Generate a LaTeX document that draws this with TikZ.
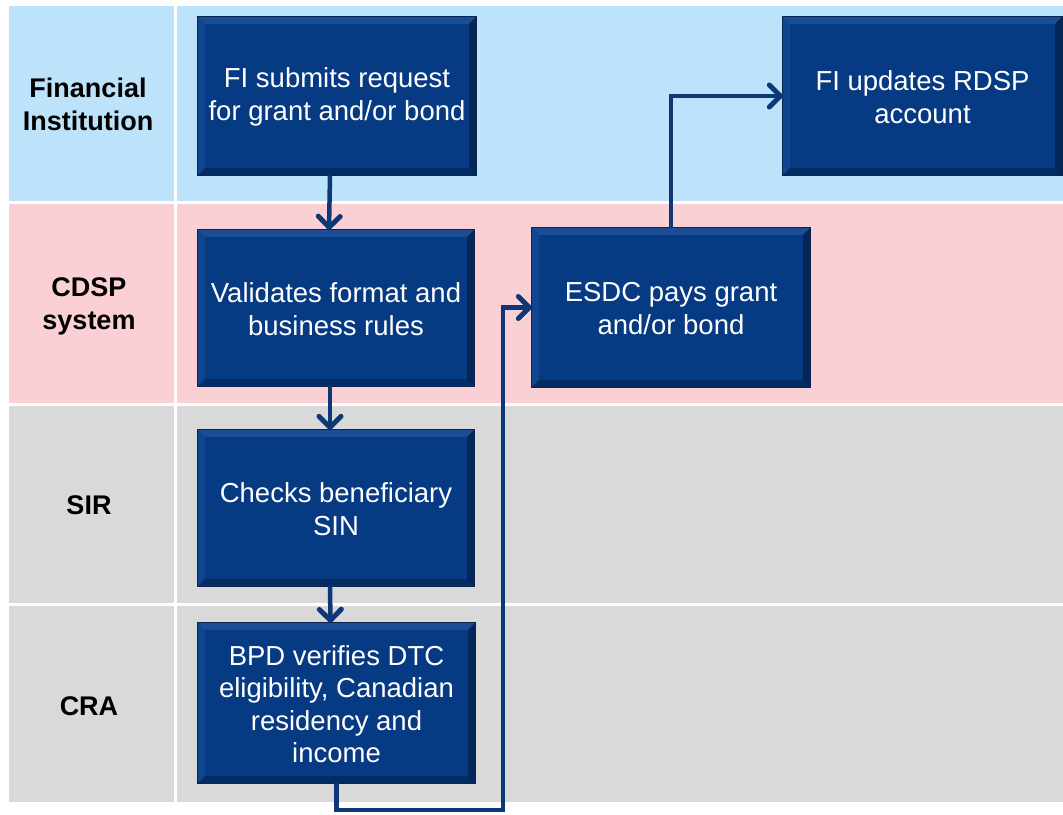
\documentclass[tikz,border=0pt]{standalone}
\usepackage{fontspec}
\setmainfont{Liberation Sans}
\usetikzlibrary{arrows.meta}
\definecolor{bandblue}{HTML}{BDE3FA}
\definecolor{bandpink}{HTML}{FBD0D4}
\definecolor{bandgrey}{HTML}{D9D9D9}
\definecolor{boxfill}{HTML}{063A82}
\definecolor{bevlight}{HTML}{1A4D96}
\definecolor{bevleft}{HTML}{104590}
\definecolor{bevdark}{HTML}{042B62}
\definecolor{bevright}{HTML}{032557}
\definecolor{boxedge}{HTML}{0A2550}
\definecolor{linecol}{HTML}{0D3878}
\tikzset{
  x=1pt, y=-1pt,
  band/.style={fill=#1, draw=none},
  lane/.style={font=\bfseries\fontsize{27}{33}\selectfont, align=center, text=black},
  proc/.style={fill=boxfill, draw=none, text=white, inner sep=0pt,
    font=\fontsize{27.5}{32.5}\selectfont, align=center},
  flow/.style={draw=linecol, line width=4.5pt, line join=miter,
    -{Straight Barb[length=11pt,width=22pt,line width=5pt,round]}},
}
\newcommand\bevelbox[1]{%
  \fill[bevlight] (#1.north west) -- (#1.north east) -- ([shift={(-7pt,-7pt)}]#1.north east) -- ([shift={(7pt,-7pt)}]#1.north west) -- cycle;
  \fill[bevleft] (#1.north west) -- ([shift={(7pt,-7pt)}]#1.north west) -- ([shift={(7pt,7pt)}]#1.south west) -- (#1.south west) -- cycle;
  \fill[bevdark] (#1.south west) -- ([shift={(7pt,7pt)}]#1.south west) -- ([shift={(-7pt,7pt)}]#1.south east) -- (#1.south east) -- cycle;
  \fill[bevright] (#1.south east) -- ([shift={(-7pt,7pt)}]#1.south east) -- ([shift={(-7pt,-7pt)}]#1.north east) -- (#1.north east) -- cycle;
  \draw[boxedge, line width=1pt] (#1.north west) rectangle (#1.south east);
}
\begin{document}
\begin{tikzpicture}
\useasboundingbox (0,0) rectangle (1063,814);
\fill[white] (0,0) rectangle (1063,814);
% bands
\fill[band=bandblue] (9,6) rectangle (174,201);
\fill[band=bandblue] (177,6) rectangle (1063,201);
\fill[band=bandpink] (9,204) rectangle (174,403);
\fill[band=bandpink] (177,204) rectangle (1063,403);
\fill[band=bandgrey] (9,406) rectangle (174,603);
\fill[band=bandgrey] (177,406) rectangle (1063,603);
\fill[band=bandgrey] (9,606) rectangle (174,802);
\fill[band=bandgrey] (177,606) rectangle (1063,802);
% lane labels
\node[lane] (l1) at (88,104) {Financial\\Institution};
\node[lane] (l2) at (89,306) {CDSP\\system};
\node[lane] (l3) at (89,505) {SIR};
\node[lane] (l4) at (89,706) {CRA};
% boxes
\node[proc, minimum width=278pt, minimum height=158pt] (b1) at (337,96) {};
\node[proc, minimum width=276pt, minimum height=156pt] (b2) at (336,308) {};
\node[proc, minimum width=276pt, minimum height=156pt] (b3) at (336,508) {};
\node[proc, minimum width=277pt, minimum height=160pt] (b4) at (336.5,703) {};
\node[proc, minimum width=278pt, minimum height=159pt] (b5) at (671,307.5) {};
\node[proc, minimum width=279pt, minimum height=158pt] (b6) at (922.5,96) {};
\bevelbox{b1}\bevelbox{b2}\bevelbox{b3}\bevelbox{b4}\bevelbox{b5}\bevelbox{b6}
\node[proc, fill=none] (t1) at ([yshift=-1pt]b1.center) {FI submits request\\for grant and/or bond};
\node[proc, fill=none] (t2) at ([yshift=-1pt]b2.center) {Validates format and\\business rules};
\node[proc, fill=none] (t3) at ([yshift=-1pt]b3.center) {Checks beneficiary\\SIN};
\node[proc, fill=none] (t4) at ([yshift=-1pt]b4.center) {BPD verifies DTC\\eligibility, Canadian\\residency and\\income};
\node[proc, fill=none] (t5) at ([yshift=-1pt]b5.center) {ESDC pays grant\\and/or bond};
\node[proc, fill=none] (t6) at ([yshift=-1pt]b6.center) {FI updates RDSP\\account};
% connectors
\draw[flow] ([xshift=-7pt]b1.south) -- ([xshift=-7pt]b2.north);
\draw[flow] ([xshift=-6pt]b2.south) -- ([xshift=-6pt]b3.north);
\draw[flow] ([xshift=-6pt]b3.south) -- ([xshift=-6pt]b4.north);
\coordinate (c1) at (503,810);
\draw[flow] (b4.south) |- (c1) |- (b5.west);
\draw[flow] (b5.north) |- (b6.west);
\end{tikzpicture}
\end{document}
